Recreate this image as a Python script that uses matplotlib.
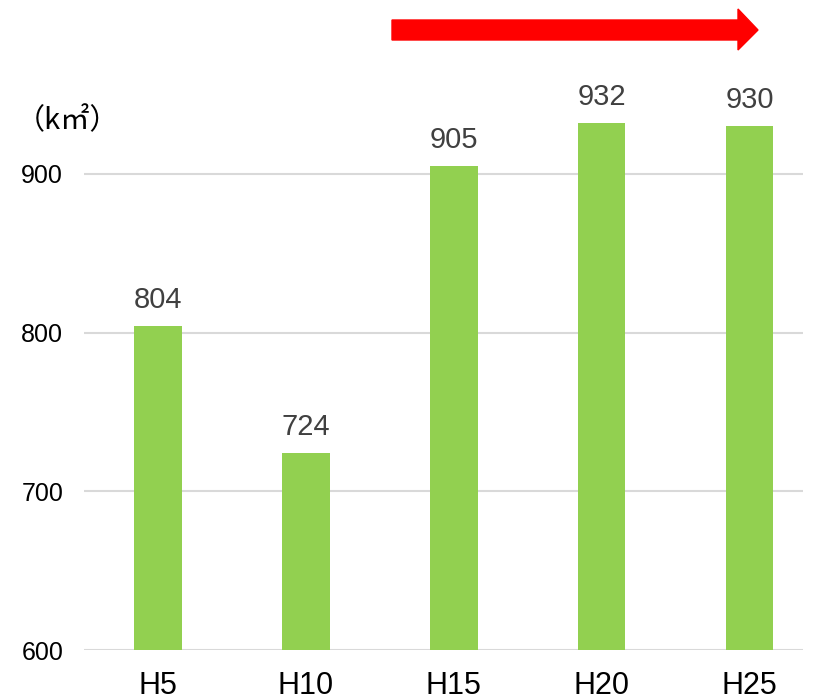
import matplotlib.pyplot as plt
from matplotlib.patches import Polygon

years = ["H5", "H10", "H15", "H20", "H25"]
area = [804, 724, 905, 932, 930]
yticks = [600, 700, 800, 900]

plt.rcParams['font.family'] = ['Liberation Sans', 'DejaVu Sans']

fig = plt.figure(figsize=(8.17, 7), dpi=100)
ax = fig.add_axes([84 / 817, 50 / 700, 719 / 817, 550 / 700])

x = range(len(years))
bars = ax.bar(x, area, width=0.32, color="#92d050", zorder=2)

ax.set_xlim(-0.5, 4.36)
ax.set_ylim(600, 946.6)
ax.set_yticks(yticks)
ax.set_xticks(list(x))
ax.set_xticklabels(years, fontsize=22, color="black")
ax.tick_params(axis="y", labelsize=18, colors="black", length=0, pad=15)
ax.tick_params(axis="x", length=0, pad=15)
ax.grid(axis="y", color="#d9d9d9", linewidth=1.5, zorder=0)
for s in ax.spines.values():
    s.set_visible(False)

for b, v in zip(bars, area):
    ax.annotate(str(v), (b.get_x() + b.get_width() / 2, v),
                xytext=(0, 9), textcoords="offset points",
                ha="center", va="bottom", fontsize=21, color="#404040")

# unit label
fig.text(68 / 817, 1 - 121 / 700, "（k㎡）", ha="center", va="center",
         fontsize=21, color="black",
         family=["Noto Sans CJK JP", "DejaVu Sans"])

# red arrow at top (pixel coords -> inches)
pts = [(392, 20), (738, 20), (738, 9), (758, 30), (738, 50), (738, 40), (392, 40)]
pts = [(px / 100, 7 - py / 100) for px, py in pts]
fig.patches.append(Polygon(pts, closed=True, color="red",
                           transform=fig.dpi_scale_trans))

fig.savefig("out.png", dpi=100)
